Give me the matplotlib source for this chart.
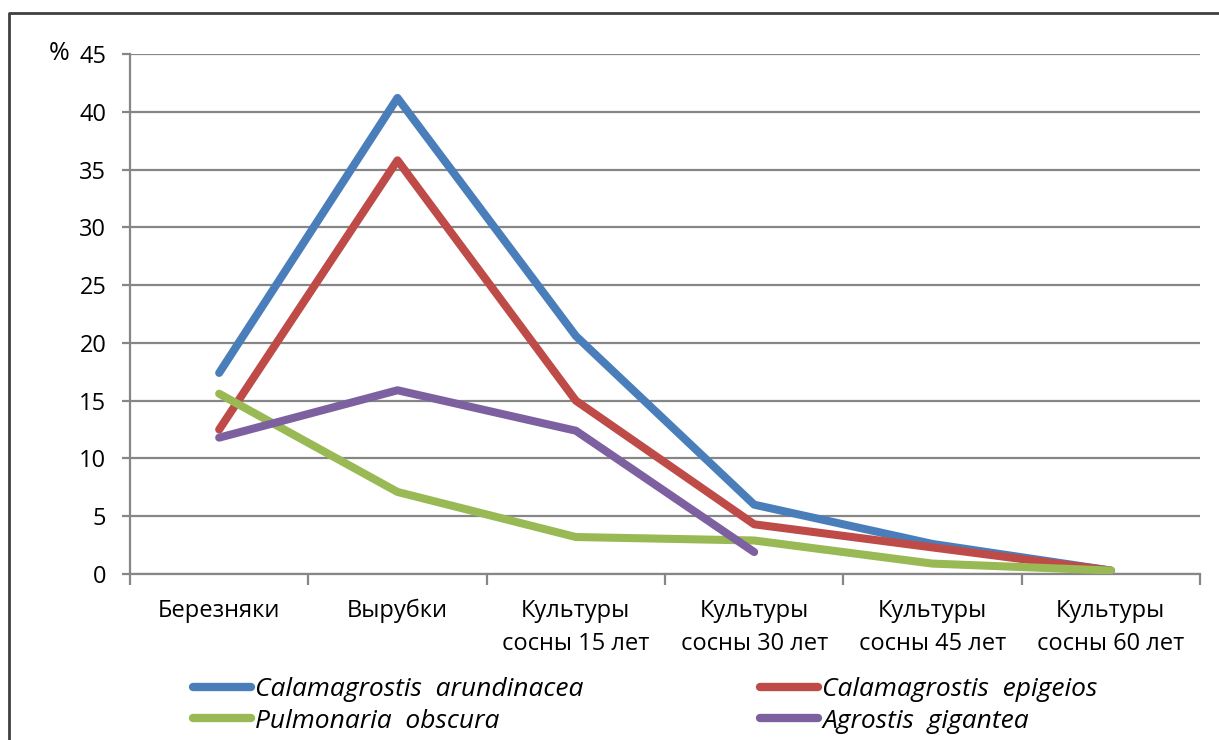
import matplotlib
matplotlib.use("Agg")
import matplotlib.pyplot as plt
from matplotlib.lines import Line2D

plt.rcParams["font.family"] = ["Open Sans", "DejaVu Sans"]

# Data -----------------------------------------------------------------------
categories = [
    "Березняки",
    "Вырубки",
    "Культуры\nсосны 15 лет",
    "Культуры\nсосны 30 лет",
    "Культуры\nсосны 45 лет",
    "Культуры\nсосны 60 лет",
]
cal_arundinacea = [17.4, 41.2, 20.6, 6.0, 2.6, 0.3]
cal_epigeios = [12.5, 35.8, 15.0, 4.3, 2.3, 0.3]
pulmonaria = [15.6, 7.1, 3.2, 2.9, 0.9, 0.3]
agrostis = [11.8, 15.9, 12.4, 1.9]

series = [
    ("Calamagrostis  arundinacea", cal_arundinacea, "#4a7ebb"),
    ("Calamagrostis  epigeios", cal_epigeios, "#be4b48"),
    ("Pulmonaria  obscura", pulmonaria, "#98b954"),
    ("Agrostis  gigantea", agrostis, "#7d60a0"),
]
yticks = list(range(0, 50, 5))

GRID = "#868686"
FS = 17
W, H = 1219, 740

fig = plt.figure(figsize=(W / 100, H / 100), dpi=100)
ax = fig.add_axes([130 / W, 1 - 574 / H, 1070 / W, 520 / H])

for label, vals, color in series:
    ax.plot(range(len(vals)), vals, color=color, linewidth=5.8,
            solid_capstyle="round", solid_joinstyle="round", label=label, zorder=3)

ax.set_xlim(-0.5, len(categories) - 0.5)
ax.set_ylim(0, 45)
ax.set_yticks(yticks)
ax.set_yticklabels([str(t) for t in yticks])
ax.yaxis.grid(True, color=GRID, linewidth=1.6)
ax.set_axisbelow(True)

# category labels between boundary ticks
ax.set_xticks([i - 0.5 for i in range(len(categories) + 1)])
ax.set_xticklabels([])
ax.set_xticks(range(len(categories)), minor=True)
ax.set_xticklabels(categories, minor=True, fontsize=FS, linespacing=1.5,
                   va="top")
ax.tick_params(axis="x", which="major", length=8, width=1.6, color=GRID)
ax.tick_params(axis="x", which="minor", length=0, pad=18)
ax.tick_params(axis="y", length=6, width=1.6, color=GRID, labelsize=FS, pad=11)

for side in ["top", "right"]:
    ax.spines[side].set_visible(False)
for side in ["left", "bottom"]:
    ax.spines[side].set_color(GRID)
    ax.spines[side].set_linewidth(1.6)

fig.text(49 / W, 1 - 54 / H, "%", fontsize=FS + 1, ha="left", va="center")

# legend: two columns
handles = {lab: Line2D([], [], color=c, linewidth=6, solid_capstyle="round")
           for lab, _, c in series}
labs = [s[0] for s in series]
for x0, pair in [(193, labs[0::2]), (760, labs[1::2])]:
    fig.legend([handles[l] for l in pair], pair, loc="upper left",
               bbox_to_anchor=(x0 / W, 1 - 677 / H), frameon=False,
               borderpad=0, borderaxespad=0, handlelength=2.2,
               handletextpad=0.15, labelspacing=0.25,
               prop={"style": "italic", "size": 19})

# outer chart border (top and left visible)
fig.add_artist(Line2D([9 / W, 9 / W, 1], [0, 1 - 13 / H, 1 - 13 / H],
                      transform=fig.transFigure, color="#404040", linewidth=2))

fig.savefig("out.png", dpi=100)
